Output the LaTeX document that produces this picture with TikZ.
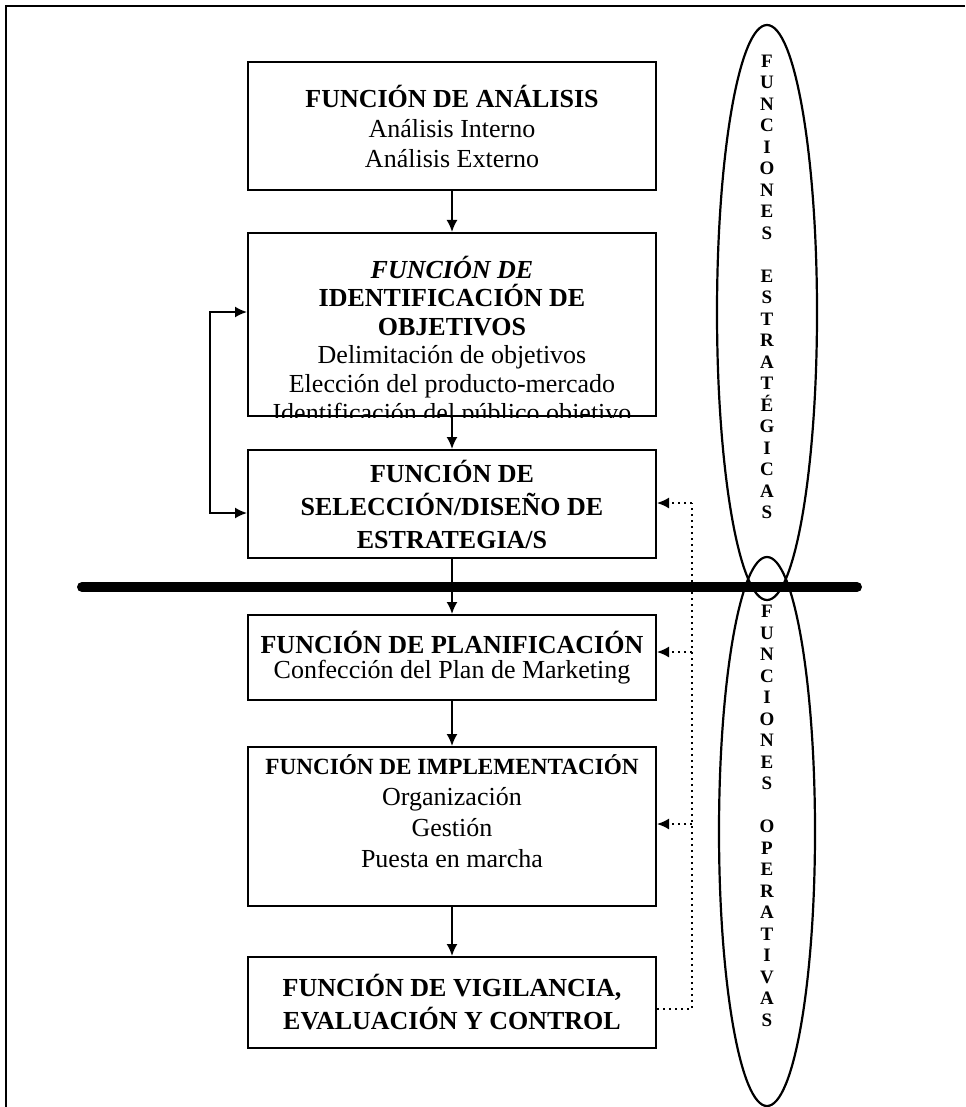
\documentclass[tikz,border=0pt]{standalone}
\usepackage{fontspec}
\setmainfont{Liberation Serif}
\usetikzlibrary{shapes.geometric,arrows.meta}

\begin{document}
\begin{tikzpicture}[x=0.5pt,y=-0.5pt,>={Latex[length=6pt,width=5.5pt]},
	box/.style={draw,line width=1pt,minimum width=204pt,align=center,inner sep=0pt,font=\fontsize{13}{14.5}\selectfont},
	arr/.style={line width=0.9pt,->},
	fb/.style={line width=0.8pt,dash pattern=on 0.8pt off 2.2pt},
	oval/.style={draw,ellipse,line width=1.1pt,inner sep=0pt},
	vtext/.style={align=center,inner sep=0pt,font=\fontsize{9.5}{10.75}\selectfont\bfseries}]
	\useasboundingbox (0,0) rectangle (965,1107);
	\draw[line width=1pt] (6,1107) -- (6,6) -- (965,6);

	\node[oval,minimum width=50pt,minimum height=287.5pt] (estr) at (767,312.5) {};
	\node[oval,minimum width=48pt,minimum height=274.5pt] (oper) at (767,831.5) {};
	\node[vtext] (estrtxt) at (767,287) {F\\U\\N\\C\\I\\O\\N\\E\\S\\[10.75pt]E\\S\\T\\R\\A\\T\\É\\G\\I\\C\\A\\S};
	\node[vtext] (opertxt) at (767,816) {F\\U\\N\\C\\I\\O\\N\\E\\S\\[10.75pt]O\\P\\E\\R\\A\\T\\I\\V\\A\\S};

	\node[box,minimum height=64pt,font=\fontsize{13}{15}\selectfont] (ana) at (452,126) {\textbf{FUNCIÓN DE ANÁLISIS}\\Análisis Interno\\Análisis Externo};
	\node[box,minimum height=91.5pt] (obj) at (452,324.5) {};
	\begin{scope}
		\clip (obj.south west) rectangle (obj.north east);
		\node[align=center,inner sep=0pt,anchor=base,font=\fontsize{13}{14.3}\selectfont] (objtxt) at (452,421) {\textbf{\textit{FUNCIÓN DE}}\\\textbf{IDENTIFICACIÓN DE}\\\textbf{OBJETIVOS}\\Delimitación de objetivos\\Elección del producto-mercado\\Identificación del público objetivo};
	\end{scope}
	\node[box,minimum height=54pt,font=\fontsize{13}{16.5}\selectfont\bfseries] (sel) at (452,504) {FUNCIÓN DE\\SELECCIÓN/DISEÑO DE\\ESTRATEGIA/S};
	\node[box,minimum height=42.5pt,font=\fontsize{13}{12.8}\selectfont] (plan) at (452,657.5) {\textbf{FUNCIÓN DE PLANIFICACIÓN}\\Confección del Plan de Marketing};
	\node[box,minimum height=79.5pt,font=\fontsize{13}{15.5}\selectfont] (imp) at (452,826.5) {{\fontsize{11.6}{14}\selectfont\bfseries FUNCIÓN DE IMPLEMENTACIÓN}\\Organización\\Gestión\\Puesta en marcha\\\mbox{}};
	\node[box,minimum height=45.5pt,font=\fontsize{13}{16.5}\selectfont\bfseries] (vig) at (452,1002.5) {FUNCIÓN DE VIGILANCIA,\\EVALUACIÓN Y CONTROL};

	\draw[arr] (ana.south) -- (obj.north);
	\draw[arr] (obj.south) -- (sel.north);
	\draw[arr] (sel.south) -- (plan.north);
	\draw[arr] (plan.south) -- (imp.north);
	\draw[arr] (imp.south) -- (vig.north);

	\coordinate (lpO) at (210,312);
	\coordinate (lpS) at (210,513);
	\draw[line width=0.9pt,<->] (lpO -| obj.west) -- (lpO) -- (lpS) -- (lpS -| sel.west);

	\coordinate (fbS) at (692,503);
	\coordinate (fbP) at (692,652);
	\coordinate (fbI) at (692,824);
	\coordinate (fbV) at (692,1009);
	\draw[fb] (vig.east |- fbV) -- (fbV) -- (fbS);
	\draw[fb,->] (fbS) -- (fbS -| sel.east);
	\draw[fb,->] (fbP) -- (fbP -| plan.east);
	\draw[fb,->] (fbI) -- (fbI -| imp.east);

	\draw[line width=5pt,line cap=round] (82,587) -- (857,587);
\end{tikzpicture}
\end{document}
